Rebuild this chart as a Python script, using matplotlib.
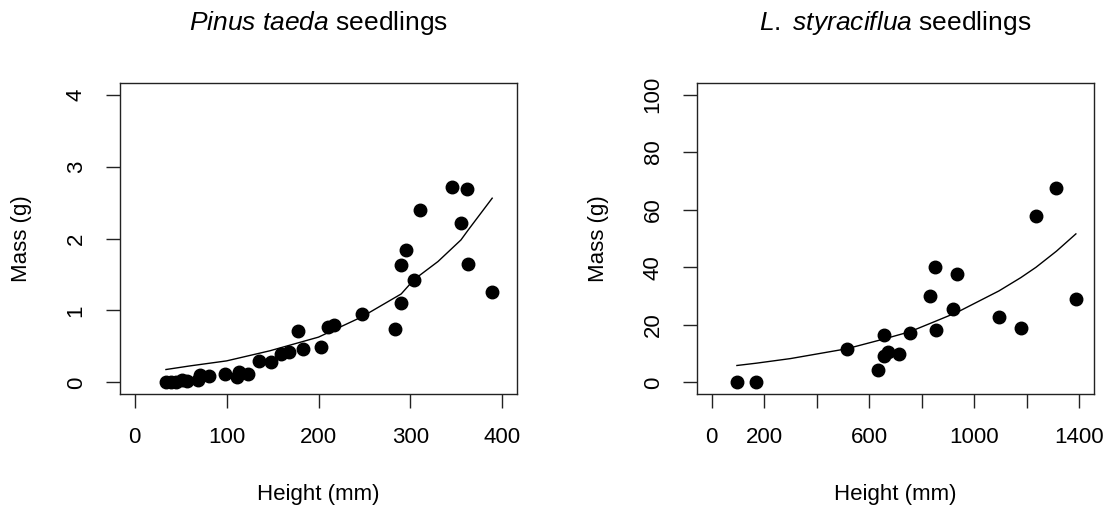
import matplotlib
matplotlib.use("Agg")
import matplotlib.pyplot as plt

plt.rcParams['font.family'] = ['Liberation Sans', 'DejaVu Sans']
plt.rcParams['mathtext.fontset'] = 'custom'
plt.rcParams['mathtext.it'] = 'Liberation Sans:italic'
plt.rcParams['mathtext.rm'] = 'Liberation Sans'

# Pinus taeda seedlings: height (mm) vs mass (g)
pine_height = [34, 40, 45, 51, 57, 69, 71, 81, 98, 111, 113, 123, 135, 148, 159,
               168, 178, 183, 203, 210, 217, 247, 283, 290, 290, 295, 304, 310,
               345, 355, 362, 363, 389]
pine_mass = [0.0, 0.0, 0.01, 0.03, 0.02, 0.04, 0.11, 0.09, 0.12, 0.08, 0.15, 0.12,
             0.30, 0.28, 0.40, 0.43, 0.72, 0.47, 0.49, 0.77, 0.80, 0.95, 0.74, 1.10,
             1.63, 1.84, 1.42, 2.39, 2.71, 2.21, 2.69, 1.64, 1.26]
# fitted curve
pine_fit_x = [34, 60, 100, 147, 200, 247, 290, 304, 330, 355, 363, 389]
pine_fit_y = [0.18, 0.23, 0.30, 0.44, 0.63, 0.91, 1.23, 1.43, 1.68, 1.98, 2.12, 2.56]

# Liquidambar styraciflua seedlings
gum_height = [96, 170, 514, 633, 656, 656, 673, 715, 754, 833, 852, 856, 918, 933,
              1094, 1177, 1235, 1313, 1387]
gum_mass = [0.1, 0.2, 11.5, 4.3, 16.4, 9.1, 10.5, 10.0, 17.1, 29.9, 40.0, 18.1, 25.5,
            37.6, 22.9, 18.9, 57.9, 67.7, 29.0]
gum_fit_x = [96, 170, 300, 514, 656, 754, 856, 933, 1094, 1177, 1235, 1313, 1387]
gum_fit_y = [5.9, 6.7, 8.3, 11.7, 15.1, 17.6, 21.4, 24.3, 31.8, 36.4, 40.0, 45.6, 51.6]

pine_xticks = [0, 100, 200, 300, 400]
pine_yticks = [0, 1, 2, 3, 4]
gum_xticks = [0, 200, 400, 600, 800, 1000, 1200, 1400]
gum_xlabels = ['0', '200', '', '600', '', '1000', '', '1400']
gum_yticks = [0, 20, 40, 60, 80, 100]

W, H = 1114, 512
fig = plt.figure(figsize=(W / 100, H / 100), dpi=100)
ax1 = fig.add_axes([120 / W, (H - 394) / H, 397 / W, 311 / H])
ax2 = fig.add_axes([697 / W, (H - 394) / H, 397 / W, 311 / H])


def style(ax, title):
    for s in ax.spines.values():
        s.set_linewidth(1.0)
        s.set_color('#222222')
    ax.tick_params(direction='out', length=10, width=1.0, labelsize=16,
                   color='#222222', pad=14)
    for lab in ax.get_yticklabels():
        lab.set_rotation(90)
        lab.set_va('center')
    ax.set_title(title, fontsize=19, pad=38)
    ax.set_xlabel('Height (mm)', fontsize=16)
    ax.set_ylabel('Mass (g)', fontsize=16)
    ax.xaxis.set_label_coords(0.5, -0.29)
    ax.yaxis.set_label_coords(-0.222, 0.5)


ax1.plot(pine_height, pine_mass, 'o', color='black', markersize=9)
ax1.plot(pine_fit_x, pine_fit_y, color='black', linewidth=1.0)
ax1.set_xlim(-16, 416)
ax1.set_ylim(-0.16, 4.16)
ax1.set_xticks(pine_xticks)
ax1.set_yticks(pine_yticks)
style(ax1, r'$\it{Pinus\ taeda}$ seedlings')

ax2.plot(gum_height, gum_mass, 'o', color='black', markersize=9)
ax2.plot(gum_fit_x, gum_fit_y, color='black', linewidth=1.0)
ax2.set_xlim(-56, 1456)
ax2.set_ylim(-4, 104)
ax2.set_xticks(gum_xticks)
ax2.set_xticklabels(gum_xlabels)
ax2.set_yticks(gum_yticks)
style(ax2, r'$\it{L.\ styraciflua}$ seedlings')

fig.savefig('out.png', dpi=100)
